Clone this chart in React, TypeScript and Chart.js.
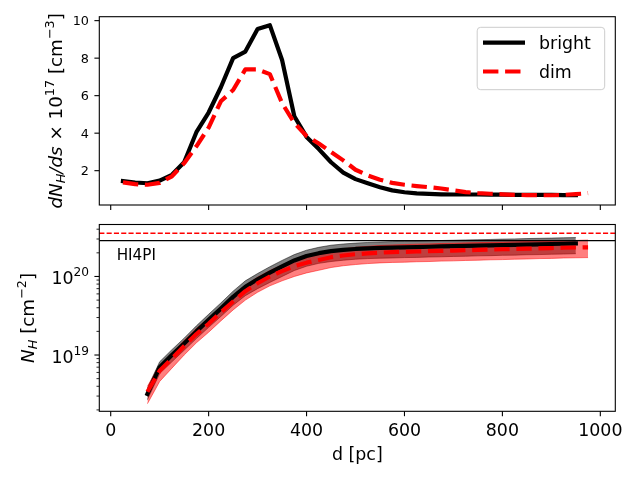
import React, { useEffect, useRef } from 'react';
import { Chart, registerables } from 'chart.js';

Chart.register(...registerables);

const FONT = "'DejaVu Sans', sans-serif";

// distance grid of the model [pc]
const distance = [
  25, 50, 75, 100, 125, 150, 175, 200, 225, 250, 275, 300, 325, 350, 375, 400, 425, 450, 475, 500,
  525, 550, 575, 600, 625, 650, 675, 700, 725, 750, 775, 800, 825, 850, 875, 900, 925, 950, 975,
];

// dN_H/ds x 10^17 [cm^-3]
const brightDensity = [
  1.44, 1.37, 1.33, 1.47, 1.78, 2.45, 4.05, 5.1, 6.45, 8.0, 8.35, 9.55, 9.76, 7.9, 4.9, 3.8, 3.15, 2.45, 1.9,
  1.55, 1.33, 1.12, 0.95, 0.85, 0.79, 0.76, 0.74, 0.73, 0.73, 0.73, 0.72, 0.72, 0.71, 0.71, 0.71, 0.71, 0.7, 0.7,
];
const dimDensity = [
  1.38, 1.28, 1.25, 1.35, 1.7, 2.4, 3.3, 4.3, 5.7, 6.3, 7.4, 7.4, 7.15, 5.6, 4.55, 3.85, 3.45, 3.0, 2.55, 2.05,
  1.75, 1.52, 1.35, 1.25, 1.18, 1.12, 1.05, 0.95, 0.86, 0.8, 0.77, 0.74, 0.71, 0.7, 0.69, 0.69, 0.71, 0.75, 0.8,
];

// N_H [cm^-2], from 75 pc on
const brightColumn = [
  3.2e18, 7.0e18, 1.0e19, 1.4e19, 2.0e19, 2.8e19, 3.9e19, 5.5e19, 7.4e19, 9.2e19, 1.12e20, 1.34e20,
  1.6e20, 1.82e20, 1.98e20, 2.1e20, 2.18e20, 2.24e20, 2.28e20, 2.31e20, 2.33e20, 2.35e20, 2.37e20, 2.39e20,
  2.41e20, 2.43e20, 2.45e20, 2.47e20, 2.49e20, 2.51e20, 2.53e20, 2.55e20, 2.57e20, 2.59e20, 2.61e20, 2.63e20,
];
const brightColumnHi = [
  3.8e18, 8.2e18, 1.17e19, 1.64e19, 2.35e19, 3.3e19, 4.6e19, 6.5e19, 8.8e19, 1.09e20, 1.33e20, 1.6e20,
  1.9e20, 2.16e20, 2.35e20, 2.5e20, 2.59e20, 2.66e20, 2.71e20, 2.75e20, 2.78e20, 2.8e20, 2.82e20, 2.84e20,
  2.87e20, 2.89e20, 2.92e20, 2.94e20, 2.96e20, 2.99e20, 3.01e20, 3.04e20, 3.06e20, 3.08e20, 3.11e20, 3.13e20,
];
const brightColumnLo = [
  2.7e18, 5.8e18, 8.2e18, 1.15e19, 1.62e19, 2.25e19, 3.1e19, 4.3e19, 5.7e19, 7.0e19, 8.4e19, 1.0e20,
  1.19e20, 1.35e20, 1.47e20, 1.55e20, 1.61e20, 1.66e20, 1.69e20, 1.71e20, 1.72e20, 1.74e20, 1.75e20, 1.77e20,
  1.78e20, 1.8e20, 1.81e20, 1.83e20, 1.84e20, 1.86e20, 1.87e20, 1.89e20, 1.9e20, 1.92e20, 1.93e20, 1.95e20,
];
const dimColumn = [
  3.4e18, 6.3e18, 9.0e18, 1.3e19, 1.85e19, 2.5e19, 3.5e19, 4.8e19, 6.5e19, 8.2e19, 1.0e20, 1.17e20,
  1.35e20, 1.5e20, 1.62e20, 1.76e20, 1.85e20, 1.92e20, 1.97e20, 2.01e20, 2.04e20, 2.06e20, 2.08e20, 2.1e20,
  2.12e20, 2.14e20, 2.16e20, 2.18e20, 2.2e20, 2.22e20, 2.24e20, 2.26e20, 2.28e20, 2.3e20, 2.32e20, 2.34e20, 2.35e20,
];
const dimColumnHi = [
  4.0e18, 7.4e18, 1.06e19, 1.53e19, 2.18e19, 2.95e19, 4.1e19, 5.7e19, 7.7e19, 9.8e19, 1.19e20, 1.4e20,
  1.62e20, 1.8e20, 1.96e20, 2.13e20, 2.25e20, 2.35e20, 2.42e20, 2.48e20, 2.52e20, 2.55e20, 2.58e20, 2.6e20,
  2.63e20, 2.65e20, 2.68e20, 2.7e20, 2.72e20, 2.74e20, 2.77e20, 2.79e20, 2.81e20, 2.83e20, 2.86e20, 2.88e20, 2.91e20,
];
const dimColumnLo = [
  2.4e18, 4.6e18, 6.8e18, 1.0e19, 1.43e19, 1.95e19, 2.72e19, 3.75e19, 5.0e19, 6.3e19, 7.6e19, 8.8e19,
  1.0e20, 1.11e20, 1.2e20, 1.3e20, 1.37e20, 1.42e20, 1.46e20, 1.49e20, 1.51e20, 1.52e20, 1.54e20, 1.55e20,
  1.57e20, 1.58e20, 1.6e20, 1.61e20, 1.63e20, 1.64e20, 1.66e20, 1.67e20, 1.69e20, 1.7e20, 1.72e20, 1.73e20, 1.74e20,
];

// HI4PI totals
const hi4piBright = 2.86e20;
const hi4piDim = 3.55e20;

const distanceTicks = [0, 200, 400, 600, 800, 1000];
const densityTicks = [2, 4, 6, 8, 10];
const columnTicks = [1e19, 1e20];
const columnTickPowers = ['19', '20'];
const columnMinorTicks = [
  2e18, 3e18, 4e18, 5e18, 6e18, 7e18, 8e18, 9e18,
  2e19, 3e19, 4e19, 5e19, 6e19, 7e19, 8e19, 9e19,
  2e20, 3e20, 4e20,
];

const columnDistance = distance.slice(2);
const pts = (xs: number[], ys: number[]) => ys.map((y, i) => ({ x: xs[i], y }));

type Run = { t: string; it?: boolean; sz?: number; up?: number };

const setFont = (ctx: CanvasRenderingContext2D, r: Run, base: number) => {
  ctx.font = `${r.it ? 'italic ' : ''}${r.sz ?? base}px ${FONT}`;
};
const runsWidth = (ctx: CanvasRenderingContext2D, runs: Run[], base: number) =>
  runs.reduce((w, r) => {
    setFont(ctx, r, base);
    return w + ctx.measureText(r.t).width;
  }, 0);
const drawRuns = (ctx: CanvasRenderingContext2D, runs: Run[], x: number, y: number, base: number) => {
  let cx = x;
  ctx.textAlign = 'left';
  ctx.textBaseline = 'alphabetic';
  runs.forEach((r) => {
    setFont(ctx, r, base);
    ctx.fillText(r.t, cx, y - (r.up ?? 0));
    cx += ctx.measureText(r.t).width;
  });
};
const drawVertical = (ctx: CanvasRenderingContext2D, runs: Run[], x: number, cy: number, base: number) => {
  ctx.save();
  ctx.translate(x, cy);
  ctx.rotate(-Math.PI / 2);
  drawRuns(ctx, runs, -runsWidth(ctx, runs, base) / 2, 0, base);
  ctx.restore();
};
const seg = (ctx: CanvasRenderingContext2D, x1: number, y1: number, x2: number, y2: number) => {
  ctx.beginPath();
  ctx.moveTo(x1, y1);
  ctx.lineTo(x2, y2);
  ctx.stroke();
};

const densityTitle: Run[] = [
  { t: 'dN', it: true },
  { t: 'H', it: true, sz: 12.8, up: -3.8 },
  { t: '/', it: true },
  { t: 'ds', it: true },
  { t: ' × 10' },
  { t: '17', sz: 12.8, up: 8 },
  { t: ' [cm' },
  { t: '−3', sz: 12.8, up: 8 },
  { t: ']' },
];
const columnTitle: Run[] = [
  { t: 'N', it: true },
  { t: 'H', it: true, sz: 12.8, up: -3.8 },
  { t: ' [cm' },
  { t: '−2', sz: 12.8, up: 8 },
  { t: ']' },
];

const drawFrame = (chart: Chart) => {
  const { ctx, chartArea: a } = chart;
  ctx.lineWidth = 1.1;
  ctx.strokeStyle = '#000';
  ctx.strokeRect(a.left, a.top, a.right - a.left, a.bottom - a.top);
};

const densityAxes = {
  id: 'densityAxes',
  afterDraw(chart: Chart) {
    const { ctx, chartArea: a } = chart;
    const x = chart.scales.x;
    const y = chart.scales.y;
    ctx.save();
    ctx.strokeStyle = '#000';
    ctx.fillStyle = '#000';
    ctx.lineWidth = 1.1;
    distanceTicks.forEach((v) => {
      const px = x.getPixelForValue(v);
      seg(ctx, px, a.bottom, px, a.bottom + 4.9);
    });
    ctx.font = `12.8px ${FONT}`;
    ctx.textAlign = 'right';
    ctx.textBaseline = 'alphabetic';
    densityTicks.forEach((v) => {
      const py = y.getPixelForValue(v);
      seg(ctx, a.left - 4.9, py, a.left, py);
      ctx.fillText(String(v), a.left - 10.3, py + 4.6);
    });
    drawFrame(chart);
    drawVertical(ctx, densityTitle, 61.5, (a.top + a.bottom) / 2, 18.3);

    // legend, upper right
    ctx.beginPath();
    ctx.roundRect(477.2, 27.3, 127.5, 62.4, 3.5);
    ctx.fillStyle = 'rgba(255,255,255,0.8)';
    ctx.fill();
    ctx.lineWidth = 1;
    ctx.strokeStyle = '#cccccc';
    ctx.stroke();
    ctx.lineWidth = 4.2;
    ctx.strokeStyle = '#000';
    seg(ctx, 483, 42.6, 525, 42.6);
    ctx.strokeStyle = 'red';
    ctx.setLineDash([15.4, 6.7]);
    seg(ctx, 483, 71.5, 525, 71.5);
    ctx.setLineDash([]);
    ctx.fillStyle = '#000';
    ctx.font = `17.4px ${FONT}`;
    ctx.textAlign = 'left';
    ctx.fillText('bright', 539, 48.7);
    ctx.fillText('dim', 539, 77.6);
    ctx.restore();
  },
};

const columnAxes = {
  id: 'columnAxes',
  afterDraw(chart: Chart) {
    const { ctx, chartArea: a } = chart;
    const x = chart.scales.x;
    const y = chart.scales.y;
    ctx.save();
    ctx.strokeStyle = '#000';
    ctx.fillStyle = '#000';

    // HI4PI levels
    ctx.lineWidth = 1.4;
    const yb = y.getPixelForValue(hi4piBright);
    seg(ctx, a.left, yb, a.right, yb);
    ctx.strokeStyle = 'red';
    ctx.setLineDash([5.1, 2.2]);
    const yd = y.getPixelForValue(hi4piDim);
    seg(ctx, a.left, yd, a.right, yd);
    ctx.setLineDash([]);
    ctx.strokeStyle = '#000';
    ctx.font = `15.2px ${FONT}`;
    ctx.textAlign = 'left';
    ctx.fillText('HI4PI', a.left + 17.4, a.top + 35.2);

    ctx.lineWidth = 1.1;
    ctx.font = `17.4px ${FONT}`;
    ctx.textAlign = 'center';
    distanceTicks.forEach((v) => {
      const px = x.getPixelForValue(v);
      seg(ctx, px, a.bottom, px, a.bottom + 4.9);
      ctx.fillText(String(v), px, a.bottom + 24.7);
    });
    columnTicks.forEach((v, i) => {
      const py = y.getPixelForValue(v);
      seg(ctx, a.left - 4.9, py, a.left, py);
      const runs: Run[] = [{ t: '10' }, { t: columnTickPowers[i], sz: 12.2, up: 7.6 }];
      drawRuns(ctx, runs, a.left - 10.2 - runsWidth(ctx, runs, 17.4), py + 7.6, 17.4);
    });
    ctx.lineWidth = 0.85;
    columnMinorTicks.forEach((v) => {
      const py = y.getPixelForValue(v);
      seg(ctx, a.left - 2.8, py, a.left, py);
    });
    drawFrame(chart);

    ctx.font = `17.4px ${FONT}`;
    ctx.textAlign = 'center';
    ctx.fillText('d [pc]', (a.left + a.right) / 2, a.bottom + 48.7);
    drawVertical(ctx, columnTitle, 33.5, (a.top + a.bottom) / 2, 18.3);
    ctx.restore();
  },
};

const line = (data: { x: number; y: number }[], color: string, dashed: boolean, order: number) => ({
  data,
  borderColor: color,
  borderWidth: 4.2,
  borderDash: dashed ? [15.4, 6.7] : [],
  borderCapStyle: (dashed ? 'butt' : 'square') as CanvasLineCap,
  borderJoinStyle: 'round' as CanvasLineJoin,
  pointRadius: 0,
  fill: false,
  order,
});

const band = (data: { x: number; y: number }[], rgba: string, fill: number | false, order: number) => ({
  data,
  borderColor: rgba,
  borderWidth: 1,
  backgroundColor: rgba,
  pointRadius: 0,
  fill,
  order,
});

const App: React.FC = () => {
  const topRef = useRef<HTMLCanvasElement | null>(null);
  const bottomRef = useRef<HTMLCanvasElement | null>(null);

  useEffect(() => {
    if (!topRef.current || !bottomRef.current) return;

    const top = new Chart(topRef.current, {
      type: 'line',
      data: {
        datasets: [
          line(pts(distance, dimDensity), 'red', true, 0),
          line(pts(distance, brightDensity), '#000', false, 1),
        ],
      },
      options: {
        responsive: false,
        animation: false,
        events: [],
        layout: { padding: { left: 99.3, right: 24.7, top: 16.7, bottom: 10 } },
        scales: {
          x: { type: 'linear', min: -23.3, max: 1030.6, display: false },
          y: { type: 'linear', min: 0.17, max: 10.21, display: false },
        },
        plugins: { legend: { display: false }, tooltip: { enabled: false } },
      },
      plugins: [densityAxes],
    });

    // the red band is laid over the grey one, lines on top of both
    const bottom = new Chart(bottomRef.current, {
      type: 'line',
      data: {
        datasets: [
          line(pts(columnDistance, dimColumn), 'red', true, 0),
          line(pts(columnDistance, brightColumn), '#000', false, 1),
          band(pts(columnDistance, dimColumnHi), 'rgba(255,0,0,0.5)', 3, 2),
          band(pts(columnDistance, dimColumnLo), 'rgba(255,0,0,0.5)', false, 2),
          band(pts(columnDistance, brightColumnHi), 'rgba(0,0,0,0.5)', 5, 3),
          band(pts(columnDistance, brightColumnLo), 'rgba(0,0,0,0.5)', false, 3),
        ],
      },
      options: {
        responsive: false,
        animation: false,
        events: [],
        layout: { padding: { left: 99.3, right: 24.7, top: 9.5, bottom: 68.7 } },
        scales: {
          x: { type: 'linear', min: -23.3, max: 1030.6, display: false },
          y: { type: 'logarithmic', min: 1.92e18, max: 4.59e20, display: false },
        },
        plugins: { legend: { display: false }, tooltip: { enabled: false } },
      },
      plugins: [columnAxes],
    });

    return () => {
      top.destroy();
      bottom.destroy();
    };
  }, []);

  return (
    <div style={{ position: 'absolute', left: 0, top: 0, width: 640, height: 480, background: '#fff' }}>
      <canvas ref={topRef} width={640} height={215} style={{ position: 'absolute', left: 0, top: 0 }} />
      <canvas ref={bottomRef} width={640} height={265} style={{ position: 'absolute', left: 0, top: 215 }} />
    </div>
  );
};

export default App;
